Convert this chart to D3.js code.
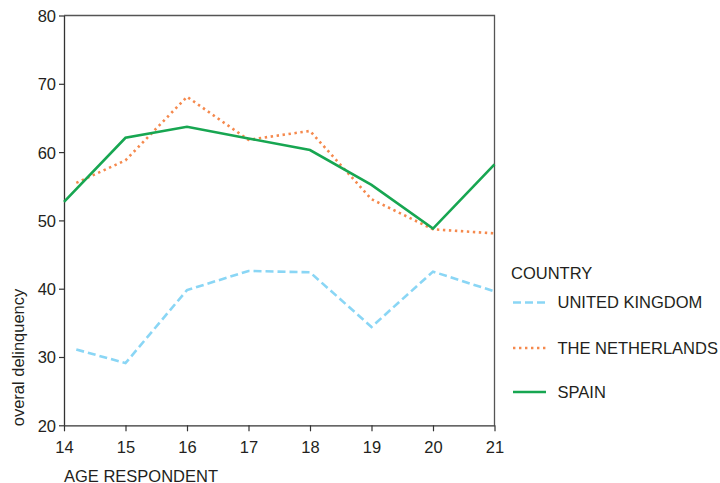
<!DOCTYPE html>
<html>
<head>
<meta charset="utf-8">
<script src="https://cdn.jsdelivr.net/npm/d3@7"></script>
<style>
  html, body { margin: 0; padding: 0; background: #fff; }
  svg { display: block; font-family: "Liberation Sans", Arial, sans-serif; }
</style>
</head>
<body>
<svg id="chart" width="720" height="483"></svg>
<script>
// Mean overall delinquency score by age, per country
const ukAges = [14.2, 15, 16, 17, 18, 19, 20, 21];
const ukValues = [31.1, 29.1, 39.8, 42.6, 42.4, 34.4, 42.5, 39.6];

const nlAges = [14.2, 15, 16, 17, 18, 19, 20, 21];
const nlValues = [55.5, 58.8, 68.1, 61.8, 63.1, 53.1, 48.7, 48.1];

const esAges = [14, 15, 16, 17, 18, 19, 20, 21];
const esValues = [52.7, 62.1, 63.7, 62.0, 60.3, 55.2, 48.8, 58.2];

const xTicks = [14, 15, 16, 17, 18, 19, 20, 21];
const yTicks = [20, 30, 40, 50, 60, 70, 80];

const seriesNames = ["UNITED KINGDOM", "THE NETHERLANDS", "SPAIN"];
const seriesColors = ["#8ad6f5", "#f5894d", "#17a651"];
const seriesDash = ["8,4", "2.4,3.6", null];

const series = [
  { name: seriesNames[0], ages: ukAges, values: ukValues, color: seriesColors[0], dash: seriesDash[0] },
  { name: seriesNames[1], ages: nlAges, values: nlValues, color: seriesColors[1], dash: seriesDash[1] },
  { name: seriesNames[2], ages: esAges, values: esValues, color: seriesColors[2], dash: seriesDash[2] }
];

const svg = d3.select("#chart");
const plotLeft = 64, plotRight = 494.5, plotTop = 15.5, plotBottom = 425.3;
const fontSize = "16.5px";

const x = d3.scaleLinear().domain([14, 21]).range([plotLeft, plotRight]);
const y = d3.scaleLinear().domain([20, 80]).range([plotBottom, plotTop]);

const textColor = "#231f20";
const axisColor = "#333";

// frame (top and right edges)
svg.append("path")
  .attr("d", `M${plotLeft},${plotTop}H${plotRight}V${plotBottom}`)
  .attr("fill", "none")
  .attr("stroke", "#555")
  .attr("stroke-width", 1.3);

// axes
const xAxis = svg.append("g")
  .attr("transform", `translate(0,${plotBottom})`)
  .call(d3.axisBottom(x).tickValues(xTicks).tickFormat(d3.format("d")).tickSize(6).tickSizeOuter(0));
const yAxis = svg.append("g")
  .attr("transform", `translate(${plotLeft},0)`)
  .call(d3.axisLeft(y).tickValues(yTicks).tickFormat(d3.format("d")).tickSize(5).tickSizeOuter(0));

[xAxis, yAxis].forEach(g => {
  g.select(".domain").attr("stroke", axisColor).attr("stroke-width", 1.3);
  g.selectAll(".tick line").attr("stroke", axisColor).attr("stroke-width", 1.2);
  g.selectAll(".tick text")
    .attr("fill", textColor)
    .style("font-size", fontSize)
    .style("font-family", "\"Liberation Sans\", Arial, sans-serif");
});
xAxis.selectAll(".tick text").attr("y", 27.4).attr("dy", 0);
yAxis.selectAll(".tick text").attr("x", -8).attr("dy", "0.36em");

// axis titles
svg.append("text")
  .attr("x", plotLeft)
  .attr("y", 481.5)
  .attr("fill", textColor)
  .style("font-size", fontSize)
  .text("AGE RESPONDENT");

svg.append("text")
  .attr("transform", `translate(24,357.5) rotate(-90)`)
  .attr("text-anchor", "middle")
  .attr("fill", textColor)
  .style("font-size", fontSize)
  .text("overal delinquency");

// series lines
const line = d3.line()
  .x(d => x(d[0]))
  .y(d => y(d[1]));

series.forEach(s => {
  const pts = s.ages.map((a, i) => [a, s.values[i]]);
  svg.append("path")
    .datum(pts)
    .attr("d", line)
    .attr("fill", "none")
    .attr("stroke", s.color)
    .attr("stroke-width", 2.6)
    .attr("stroke-dasharray", s.dash)
    .attr("stroke-linejoin", "miter");
});

// legend
const legend = svg.append("g");
legend.append("text")
  .attr("x", 511)
  .attr("y", 279)
  .attr("fill", textColor)
  .style("font-size", fontSize)
  .text("COUNTRY");

const legendY = [302.5, 348, 392];
series.forEach((s, i) => {
  legend.append("line")
    .attr("x1", 513).attr("x2", 546)
    .attr("y1", legendY[i]).attr("y2", legendY[i])
    .attr("stroke", s.color)
    .attr("stroke-width", 2.6)
    .attr("stroke-dasharray", s.dash);
  legend.append("text")
    .attr("x", 557.5)
    .attr("y", legendY[i])
    .attr("dy", "0.36em")
    .attr("fill", textColor)
    .style("font-size", fontSize)
    .text(s.name);
});
</script>
</body>
</html>
